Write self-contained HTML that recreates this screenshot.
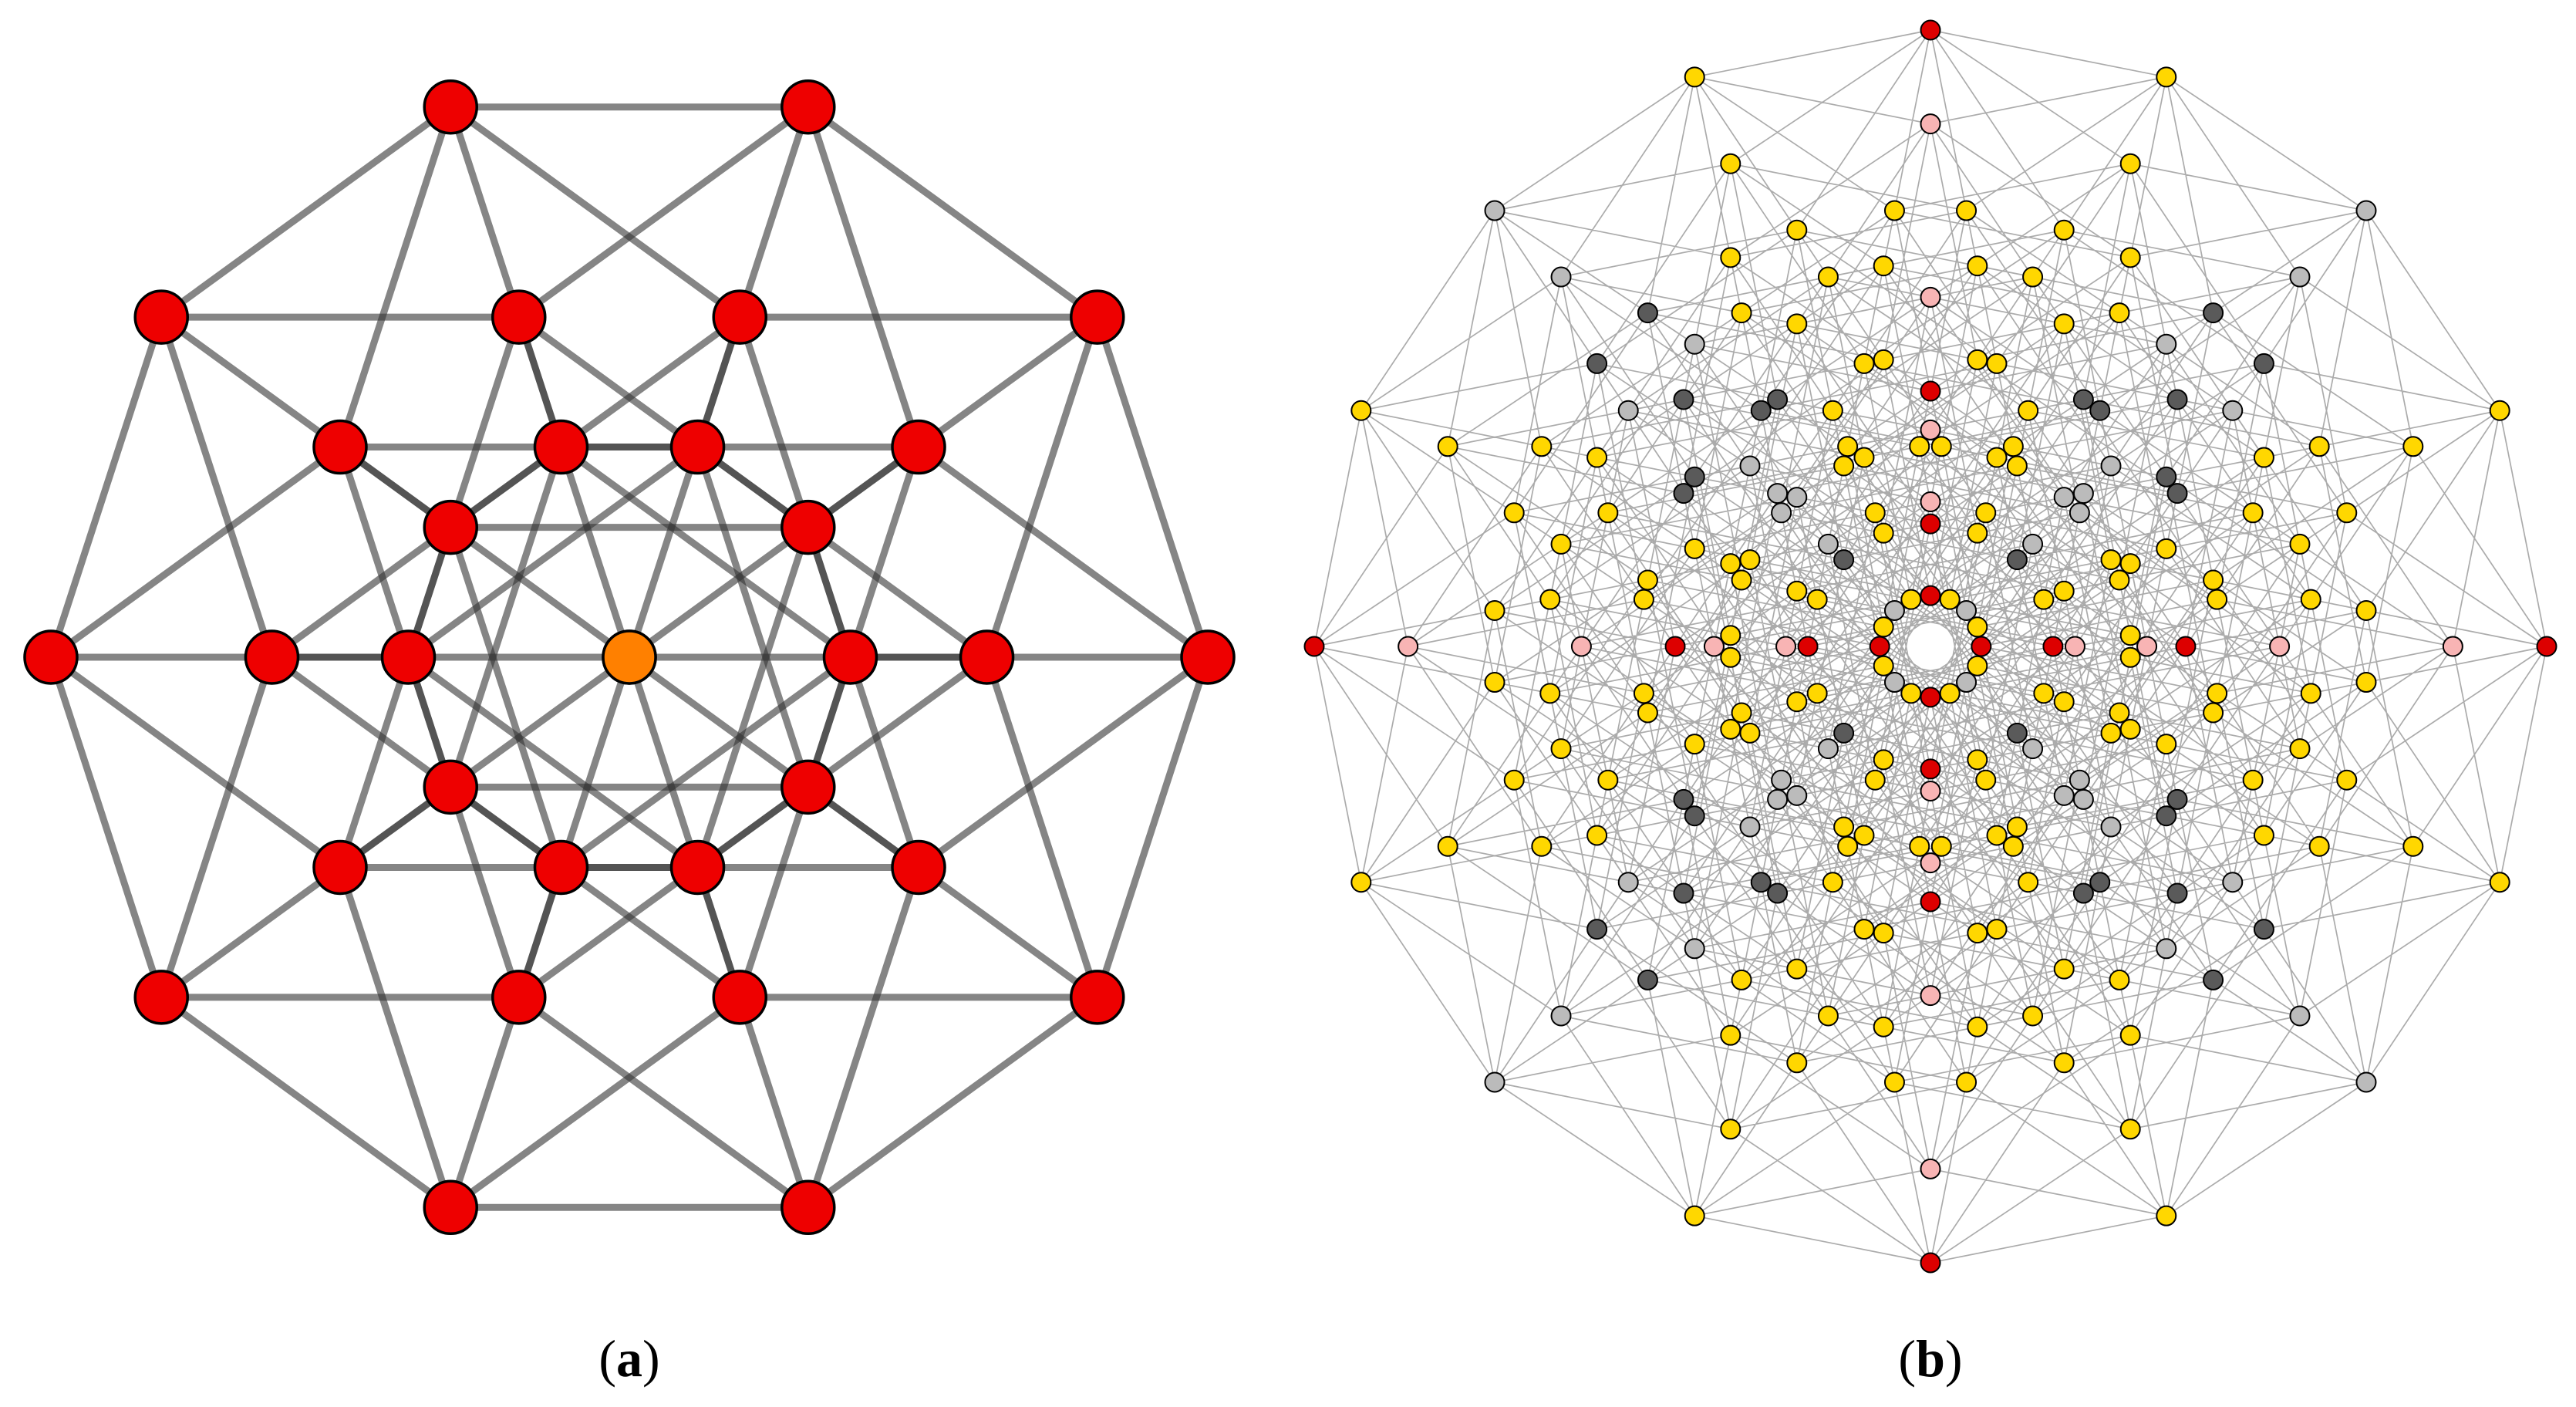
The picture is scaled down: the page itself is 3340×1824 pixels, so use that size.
<!DOCTYPE html>
<html><head><meta charset="utf-8">
<style>
html,body{margin:0;padding:0;background:#fff;}
body{width:3340px;height:1824px;position:relative;overflow:hidden;}
svg{position:absolute;left:0;top:0;}
.lbl{position:absolute;top:1722px;font-family:"Liberation Serif",serif;font-size:68px;color:#000;transform:translateX(-50%);}
</style></head>
<body>
<svg id="s" width="3340" height="1824" xmlns="http://www.w3.org/2000/svg"></svg>
<div class="lbl" style="left:816px;">(<b>a</b>)</div>
<div class="lbl" style="left:2503px;">(<b>b</b>)</div>
<script>
var s=document.getElementById('s'),NS='http://www.w3.org/2000/svg';
function el(t,a){var e=document.createElementNS(NS,t);for(var k in a)e.setAttribute(k,a[k]);s.appendChild(e);return e;}
function cube(n,angStep,rot){var P=[];for(var m=0;m<(1<<n);m++){var x=0,y=0;for(var k=0;k<n;k++){var e=(m>>k)&1?1:-1;var a=k*angStep+rot;x+=e*Math.cos(a);y+=e*Math.sin(a);}P.push([x,y,m]);}return P;}
// (a) 5-cube
(function(){
 var P=cube(5,2*Math.PI/5,0),cx=816,cy=852,R=750/3.236;
 for(var m=0;m<32;m++)for(var k=0;k<5;k++){var n=m^(1<<k);if(n>m){var a=P[m],b=P[n];el('line',{x1:cx+a[0]*R,y1:cy-a[1]*R,x2:cx+b[0]*R,y2:cy-b[1]*R,stroke:'#333',"stroke-width":9,"stroke-opacity":0.6,"stroke-linecap":"round"});}}
 for(var m=0;m<32;m++){var a=P[m];var c=(m==0||m==31);el('circle',{cx:cx+a[0]*R,cy:cy-a[1]*R,r:34,fill:c?'#ff8000':'#ee0000',stroke:'#000','stroke-width':3.5});}
})();
// (b) 8-cube
(function(){
 var n=8,st=Math.PI/8,P=cube(n,st,0),cx=2503,cy=838;
 var mx=0,ma=0;P.forEach(function(p){var r=Math.hypot(p[0],p[1]);if(r>mx+1e-9){mx=r;ma=Math.atan2(p[1],p[0]);}});
 var rot=-(((ma%st)+st)%st);var R=799/mx,c=Math.cos(rot),sn=Math.sin(rot);
 var Q=P.map(function(p){return [cx+(p[0]*c-p[1]*sn)*R,cy-(p[0]*sn+p[1]*c)*R,Math.hypot(p[0],p[1])*R,Math.atan2(p[0]*sn+p[1]*c,p[0]*c-p[1]*sn)];});
 var d='';
 for(var m=0;m<256;m++)for(var k=0;k<n;k++){var q=m^(1<<k);if(q>m){var a=Q[m],b=Q[q];if(a[2]<40||b[2]<40)continue;d+='M'+a[0].toFixed(1)+' '+a[1].toFixed(1)+'L'+b[0].toFixed(1)+' '+b[1].toFixed(1);}}
 el('path',{d:d,stroke:'#444','stroke-width':1.7,'stroke-opacity':0.45,fill:'none'});
 var seen={};
 for(var m=0;m<256;m++){var a=Q[m];if(a[2]<40)continue;var key=Math.round(a[0]/4)+','+Math.round(a[1]/4);if(seen[key])continue;seen[key]=1;
  var ang=a[3]*180/Math.PI;var r=a[2];
  var mod90=((ang%90)+90)%90;
  var mod45=((ang%45)+45)%45;
  var col='#ffd700';
  var onAxis=Math.min(mod90,90-mod90)<1.5;
  if(onAxis){
    col=(Math.abs(r-799)<20||Math.abs(r-330)<18||Math.abs(r-160)<14||r<80)?'#dd0000':'#f8b4b4';
  } else if(Math.abs(mod90-45)<14){
    var h=(Math.round(r/25)+Math.round(ang))%2;
    col=h?'#5a5a5a':'#bbbbbb';
    if(Math.abs(mod90-45)<1.5) col=(Math.abs(r-799)<20||Math.abs(r-700)<20)?'#bbbbbb':col;
  }
  el('circle',{cx:a[0],cy:a[1],r:12.5,fill:col,stroke:'#000','stroke-width':2});}
})();
</script>
</body></html>
